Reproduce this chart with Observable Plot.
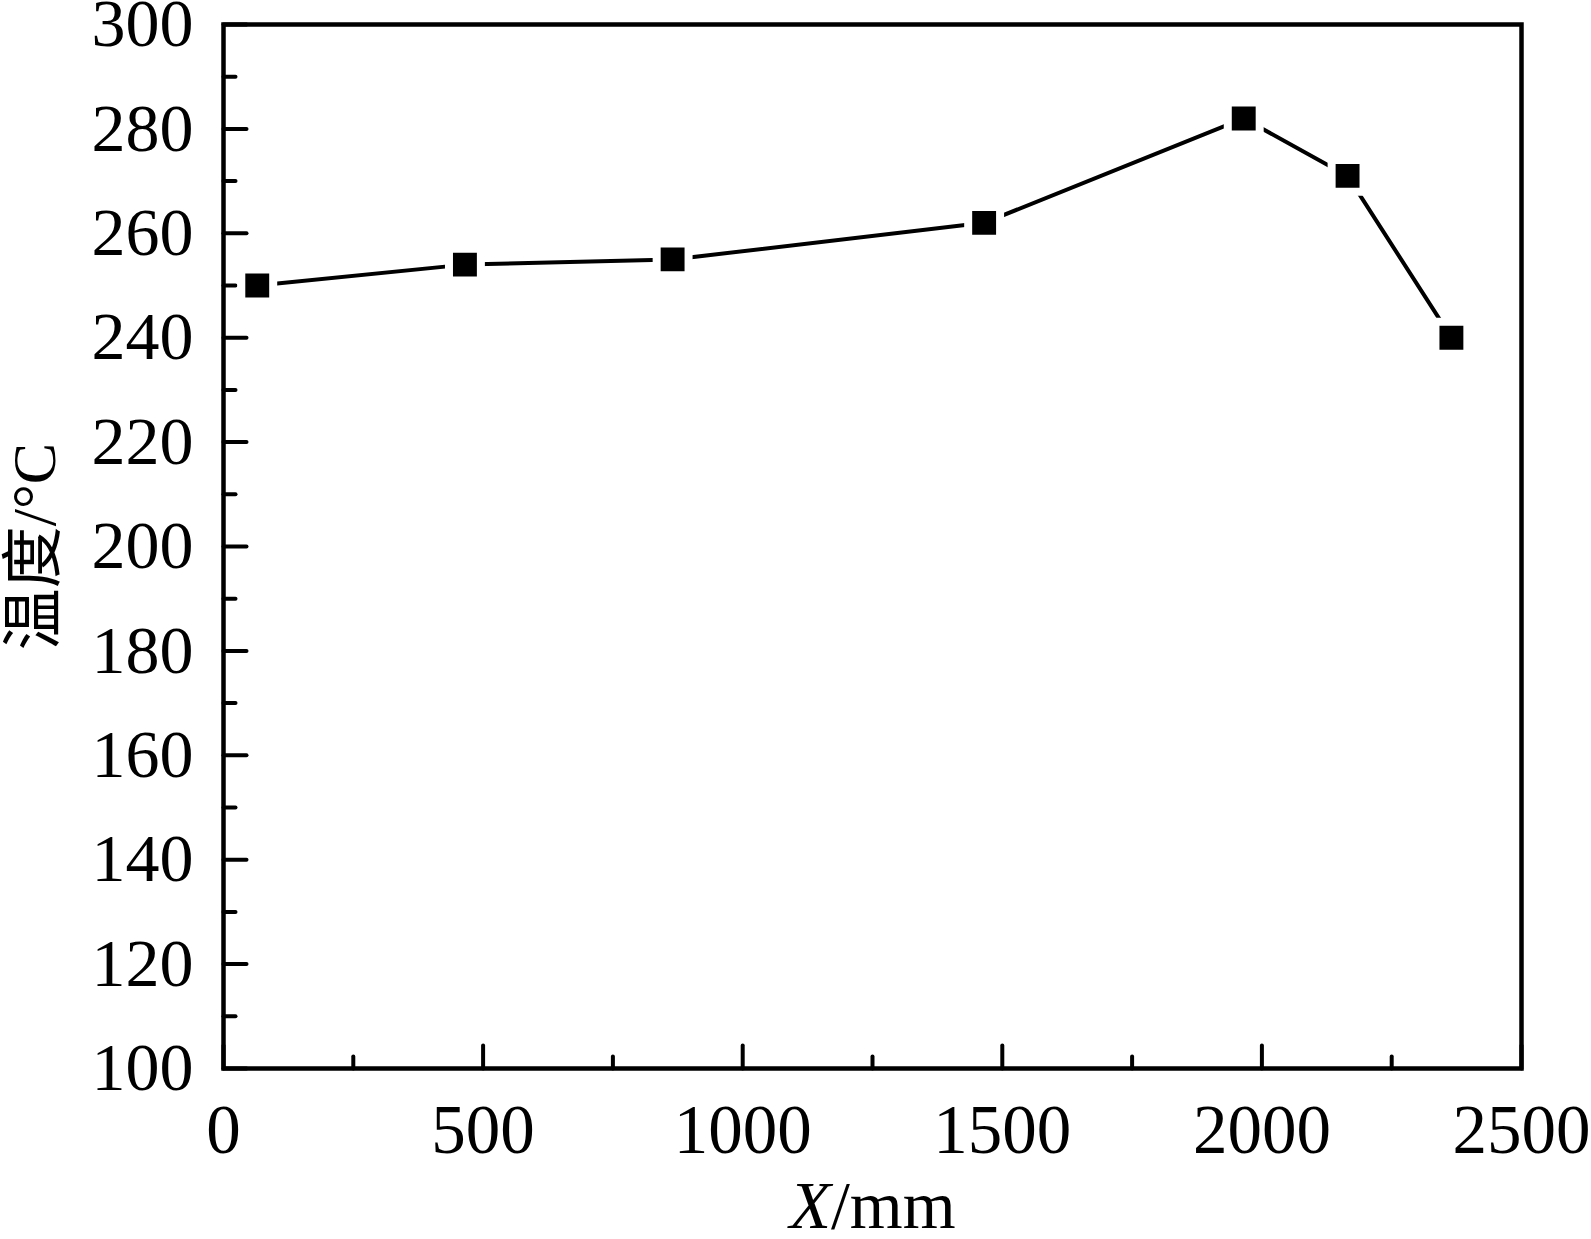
<!DOCTYPE html>
<html><head><meta charset="utf-8">
<script src="https://cdn.jsdelivr.net/npm/d3@7"></script>
<script src="https://cdn.jsdelivr.net/npm/@observablehq/plot@0.6"></script>
<style>body{margin:0;background:#fff}</style>
</head><body><div id="chart"></div>
<script>
// Data
const positionsMm = [65, 465, 865, 1465, 1965, 2165, 2365];
const temperaturesC = [250, 254, 255, 262, 282, 271, 240];
// Ticks
const xMajorTicks = [0, 500, 1000, 1500, 2000, 2500];
const xMinorTicks = [250, 750, 1250, 1750, 2250];
const yMajorTicks = [100, 120, 140, 160, 180, 200, 220, 240, 260, 280, 300];
const yMinorTicks = [110, 130, 150, 170, 190, 210, 230, 250, 270, 290];
// Labels
const xLabel = "X/mm";
const yLabel = "温度/°C";

const data = positionsMm.map((x, i) => ({x, y: temperaturesC[i]}));
const tickShape = {draw(context, l) { context.moveTo(0, 0); context.lineTo(0, -l); }};
const serif = "'Liberation Serif', 'Times New Roman', 'Noto Sans CJK SC', serif";

const chart = Plot.plot({
  width: 1591,
  height: 1239,
  marginLeft: 223,
  marginRight: 70,
  marginTop: 24,
  marginBottom: 171,
  style: {fontFamily: serif, background: "white", color: "black", overflow: "visible"},
  x: {domain: [0, 2500]},
  y: {domain: [100, 300]},
  marks: [
    Plot.frame({stroke: "black", strokeWidth: 4.5}),
    Plot.vector(xMajorTicks, {x: d => d, y: () => 100, length: 23, rotate: 0, anchor: "start", shape: tickShape, stroke: "black", strokeWidth: 4}),
    Plot.vector(xMinorTicks, {x: d => d, y: () => 100, length: 12, rotate: 0, anchor: "start", shape: tickShape, stroke: "black", strokeWidth: 4}),
    Plot.vector(yMajorTicks, {x: () => 0, y: d => d, length: 23, rotate: 90, anchor: "start", shape: tickShape, stroke: "black", strokeWidth: 4}),
    Plot.vector(yMinorTicks, {x: () => 0, y: d => d, length: 12, rotate: 90, anchor: "start", shape: tickShape, stroke: "black", strokeWidth: 4}),
    Plot.axisX({ticks: xMajorTicks, tickSize: 0, tickPadding: 35, fontSize: 69, tickFormat: d => `${d}`, label: null}),
    Plot.axisY({ticks: yMajorTicks, tickSize: 0, tickPadding: 30, fontSize: 68, tickFormat: d => `${d}`, label: null}),
    Plot.line(data, {x: "x", y: "y", stroke: "black", strokeWidth: 4}),
    Plot.dot(data, {x: "x", y: "y", symbol: "square", r: 18, fill: "black", stroke: "white", strokeWidth: 8}),
    Plot.text([xLabel], {text: d => d, frameAnchor: "bottom", textAnchor: "middle", lineAnchor: "middle", dy: 138, fontSize: 68, fill: "black"}),
    Plot.text([yLabel], {text: d => d, frameAnchor: "left", textAnchor: "middle", lineAnchor: "middle", rotate: -90, dx: -188, fontSize: 62, fill: "black"})
  ]
});
document.getElementById("chart").appendChild(chart);

// italic X in the x-axis label
d3.select(chart).selectAll("text").filter(function() { return this.textContent === xLabel; }).each(function() {
  const t = d3.select(this);
  t.text(null);
  t.append("tspan").attr("font-style", "italic").text(xLabel.slice(0, 1));
  t.append("tspan").text(xLabel.slice(1));
});
</script>
</body></html>
